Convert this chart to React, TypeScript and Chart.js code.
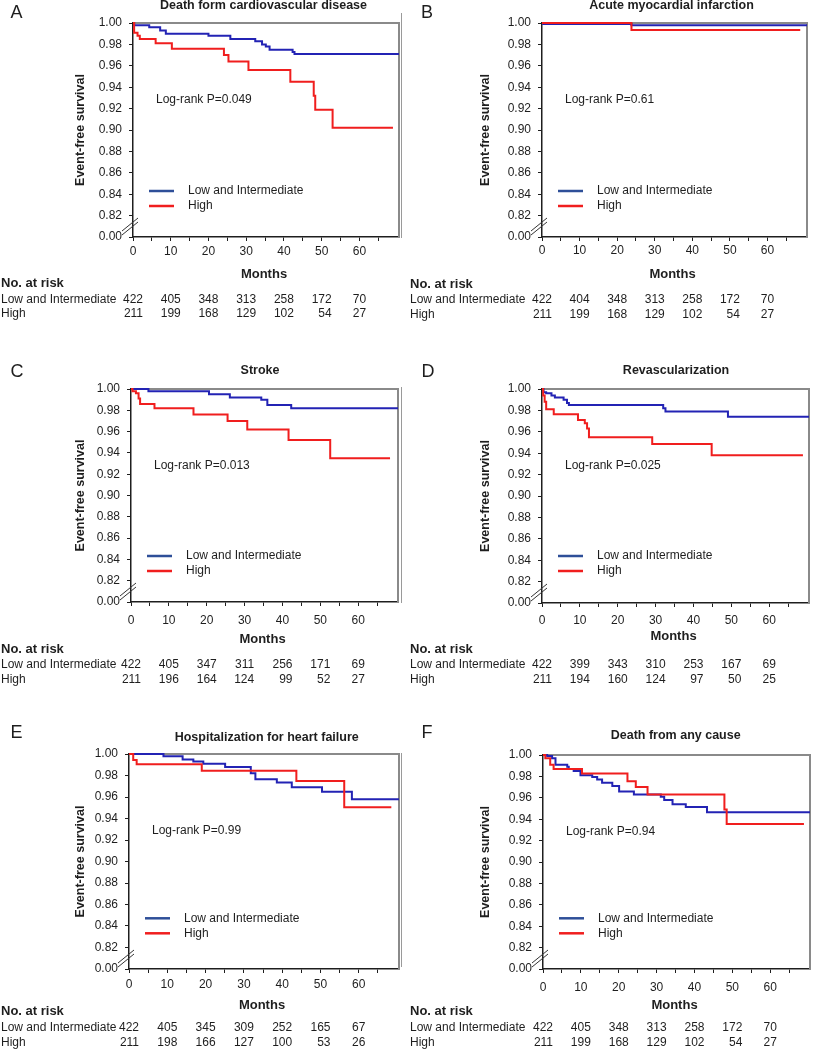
import React, { useEffect, useRef } from "react";
import { Chart, registerables } from "chart.js";

Chart.register(...registerables);

const FONT = '"Liberation Sans", Arial, Helvetica, sans-serif';
const INK = "#1e1e1e";
const BLUE = "#2323b4";
const BLUE_KEY = "#2e4f98";
const RED = "#f01e1e";
const FRAME = "#8a8a8a";

const riskMonths = [0, 10, 20, 30, 40, 50, 60];
const groupNames = ["Low and Intermediate", "High"];
const X_MAX = 70.5;
const Y_MIN = 0.8; // drawn as "0.00" below the axis break
const Y_MAX = 1.0;

// ---- Panel A ----
const titleA = "Death form cardiovascular disease";
const pA = "Log-rank P=0.049";
const aLowT = [0, 0.3, 4.3, 7.2, 8.7, 20.0, 25.8, 32.4, 34.2, 35.2, 36.2, 42.3, 42.8, 70.5];
const aLowS = [1.0, 0.998, 0.996, 0.993, 0.990, 0.988, 0.985, 0.983, 0.980, 0.978, 0.975, 0.973, 0.971, 0.971];
const aHighT = [0, 0.3, 1.2, 1.8, 6.0, 10.3, 24.1, 25.3, 30.6, 41.7, 47.9, 48.3, 52.9, 68.9];
const aHighS = [1.0, 0.991, 0.988, 0.985, 0.981, 0.976, 0.970, 0.964, 0.956, 0.945, 0.932, 0.919, 0.902, 0.902];
const aRiskLow = [422, 405, 348, 313, 258, 172, 70];
const aRiskHigh = [211, 199, 168, 129, 102, 54, 27];

// ---- Panel B ----
const titleB = "Acute myocardial infarction";
const pB = "Log-rank P=0.61";
const bLowT = [0, 0.3, 23.8, 70.5];
const bLowS = [1.0, 0.999, 0.998, 0.998];
const bHighT = [0, 23.8, 68.7];
const bHighS = [1.0, 0.9935, 0.9935];
const bRiskLow = [422, 404, 348, 313, 258, 172, 70];
const bRiskHigh = [211, 199, 168, 129, 102, 54, 27];

// ---- Panel C ----
const titleC = "Stroke";
const pC = "Log-rank P=0.013";
const cLowT = [0, 4.6, 20.6, 26.1, 34.4, 36.0, 42.3, 70.5];
const cLowS = [1.0, 0.998, 0.995, 0.992, 0.990, 0.985, 0.982, 0.982];
const cHighT = [0, 0.4, 1.3, 2.0, 2.4, 6.2, 16.5, 25.5, 30.7, 41.6, 52.6, 68.4];
const cHighS = [1.0, 0.998, 0.996, 0.991, 0.986, 0.982, 0.976, 0.970, 0.962, 0.952, 0.935, 0.935];
const cRiskLow = [422, 405, 347, 311, 256, 171, 69];
const cRiskHigh = [211, 196, 164, 124, 99, 52, 27];

// ---- Panel D ----
const titleD = "Revascularization";
const pD = "Log-rank P=0.025";
const dLowT = [0, 0.4, 1.1, 2.5, 3.4, 5.7, 6.6, 7.1, 32.0, 32.6, 49.1, 70.5];
const dLowS = [1.0, 0.997, 0.996, 0.994, 0.992, 0.990, 0.987, 0.985, 0.982, 0.979, 0.974, 0.974];
const dHighT = [0, 0.3, 0.7, 1.1, 3.1, 9.5, 11.3, 11.9, 12.4, 29.1, 44.8, 68.9];
const dHighS = [1.0, 0.994, 0.988, 0.981, 0.9765, 0.971, 0.968, 0.963, 0.955, 0.9485, 0.938, 0.938];
const dRiskLow = [422, 399, 343, 310, 253, 167, 69];
const dRiskHigh = [211, 194, 160, 124, 97, 50, 25];

// ---- Panel E ----
const titleE = "Hospitalization for heart failure";
const pE = "Log-rank P=0.99";
const eLowT = [0, 9.0, 14.0, 16.8, 19.4, 25.1, 31.8, 33.0, 38.6, 42.5, 50.4, 58.2, 70.5];
const eLowS = [1.0, 0.998, 0.995, 0.993, 0.991, 0.988, 0.982, 0.9765, 0.9735, 0.969, 0.965, 0.958, 0.958];
const eHighT = [0, 1.1, 2.0, 19.0, 43.7, 56.2, 68.5];
const eHighS = [1.0, 0.9945, 0.9905, 0.9845, 0.975, 0.9505, 0.9505];
const eRiskLow = [422, 405, 345, 309, 252, 165, 67];
const eRiskHigh = [211, 198, 166, 127, 100, 53, 26];

// ---- Panel F ----
const titleF = "Death from any cause";
const pF = "Log-rank P=0.94";
const fLowT = [0, 1.1, 2.4, 3.3, 6.4, 6.8, 8.1, 9.9, 13.0, 14.3, 15.6, 18.3, 20.1, 24.0, 31.1, 32.0, 34.2, 37.7, 43.3, 70.5];
const fLowS = [1.0, 0.999, 0.997, 0.991, 0.989, 0.987, 0.985, 0.981, 0.9795, 0.977, 0.974, 0.971, 0.966, 0.963, 0.961, 0.958, 0.954, 0.9515, 0.9465, 0.9465];
const fHighT = [0, 0.6, 1.9, 2.8, 10.3, 22.3, 24.5, 27.6, 47.9, 48.5, 68.9];
const fHighS = [1.0, 0.997, 0.991, 0.987, 0.9826, 0.9754, 0.970, 0.963, 0.949, 0.9356, 0.9356];
const fRiskLow = [422, 405, 348, 313, 258, 172, 70];
const fRiskHigh = [211, 199, 168, 129, 102, 54, 27];

type PanelCfg = {
  letter: string; title: string; pText: string;
  lowT: number[]; lowS: number[]; highT: number[]; highS: number[];
  riskLow: number[]; riskHigh: number[];
  ox: number; oy: number; w: number; h: number;
  L: number; R: number; T: number; B: number;
  letterX: number; letterY: number; titleX: number; titleY: number;
  xPad: number; monthsY: number; riskY: number; row1Y: number; row2Y: number;
  tableX: number; yTitleX: number; legendDY: number;
};

const panels: PanelCfg[] = [
  { letter: "A", title: titleA, pText: pA, lowT: aLowT, lowS: aLowS, highT: aHighT, highS: aHighS, riskLow: aRiskLow, riskHigh: aRiskHigh,
    ox: 0, oy: 0, w: 406, h: 330, L: 133, R: 399, T: 23, B: 237, letterX: 16.5, letterY: 13, titleX: 263.5, titleY: 6,
    xPad: 3.5, monthsY: 274.3, riskY: 283.3, row1Y: 299.3, row2Y: 314, tableX: 1, yTitleX: 81, legendDY: 168 },
  { letter: "B", title: titleB, pText: pB, lowT: bLowT, lowS: bLowS, highT: bHighT, highS: bHighS, riskLow: bRiskLow, riskHigh: bRiskHigh,
    ox: 406, oy: 0, w: 407, h: 330, L: 542, R: 807, T: 23, B: 237, letterX: 427, letterY: 13, titleX: 671.5, titleY: 5.5,
    xPad: 2.5, monthsY: 274.3, riskY: 284.3, row1Y: 299.3, row2Y: 314.3, tableX: 410, yTitleX: 486, legendDY: 168 },
  { letter: "C", title: titleC, pText: pC, lowT: cLowT, lowS: cLowS, highT: cHighT, highS: cHighS, riskLow: cRiskLow, riskHigh: cRiskHigh,
    ox: 0, oy: 330, w: 406, h: 360, L: 131, R: 398, T: 389, B: 602, letterX: 17, letterY: 372, titleX: 260, titleY: 371,
    xPad: 7.8, monthsY: 639, riskY: 649.3, row1Y: 665, row2Y: 680, tableX: 1, yTitleX: 81, legendDY: 167 },
  { letter: "D", title: titleD, pText: pD, lowT: dLowT, lowS: dLowS, highT: dHighT, highS: dHighS, riskLow: dRiskLow, riskHigh: dRiskHigh,
    ox: 406, oy: 330, w: 407, h: 360, L: 542, R: 809, T: 389, B: 603, letterX: 428, letterY: 372, titleX: 676, titleY: 371,
    xPad: 6.8, monthsY: 636.7, riskY: 649.3, row1Y: 665, row2Y: 680, tableX: 410, yTitleX: 486, legendDY: 167 },
  { letter: "E", title: titleE, pText: pE, lowT: eLowT, lowS: eLowS, highT: eHighT, highS: eHighS, riskLow: eRiskLow, riskHigh: eRiskHigh,
    ox: 0, oy: 690, w: 406, h: 360, L: 129, R: 399, T: 754, B: 969, letterX: 16.5, letterY: 733, titleX: 266.7, titleY: 737.3,
    xPad: 4.8, monthsY: 1005, riskY: 1011.7, row1Y: 1027.7, row2Y: 1042.3, tableX: 1, yTitleX: 81, legendDY: 164.3 },
  { letter: "F", title: titleF, pText: pF, lowT: fLowT, lowS: fLowS, highT: fHighT, highS: fHighS, riskLow: fRiskLow, riskHigh: fRiskHigh,
    ox: 406, oy: 690, w: 407, h: 360, L: 543, R: 810, T: 755, B: 969, letterX: 427, letterY: 733, titleX: 675.7, titleY: 736,
    xPad: 7.5, monthsY: 1005, riskY: 1011.7, row1Y: 1027.7, row2Y: 1042.3, tableX: 410, yTitleX: 486, legendDY: 163.3 },
];

const X_AXIS_H = 34;

function toPoints(t: number[], s: number[]) {
  return t.map((x, i) => ({ x, y: s[i] }));
}

function decorPlugin(cfg: PanelCfg) {
  return {
    id: "kmDecor",
    beforeDatasetsDraw(chart: any) {
      const ctx = chart.ctx as CanvasRenderingContext2D;
      const { left: L, right: R, top: T, bottom: B } = chart.chartArea;
      ctx.save();
      ctx.strokeStyle = FRAME;
      ctx.lineWidth = 2;
      ctx.beginPath();
      ctx.moveTo(L, T);
      ctx.lineTo(R, T);
      ctx.lineTo(R, B);
      ctx.stroke();
      ctx.restore();
    },
    afterDraw(chart: any) {
      const ctx = chart.ctx as CanvasRenderingContext2D;
      const { left: L, right: R, top: T, bottom: B } = chart.chartArea;
      const xs = chart.scales.x;
      const lx = (px: number) => px - cfg.ox;
      const ly = (py: number) => py - cfg.oy;
      ctx.save();

      // axis break marks
      ctx.strokeStyle = "#333";
      ctx.lineWidth = 1;
      for (const d of [0, 4]) {
        ctx.beginPath();
        ctx.moveTo(L - 11, B - 2 - d);
        ctx.lineTo(L + 5, B - 15 - d);
        ctx.stroke();
      }

      ctx.fillStyle = INK;
      ctx.textBaseline = "middle";

      // panel letter
      ctx.font = `18px ${FONT}`;
      ctx.textAlign = "center";
      ctx.fillText(cfg.letter, lx(cfg.letterX), ly(cfg.letterY));

      // title
      ctx.font = `bold 12.5px ${FONT}`;
      ctx.fillText(cfg.title, lx(cfg.titleX), ly(cfg.titleY));

      // y axis title
      ctx.save();
      ctx.translate(lx(cfg.yTitleX), (T + B) / 2);
      ctx.rotate(-Math.PI / 2);
      ctx.font = `bold 12.5px ${FONT}`;
      ctx.fillText("Event-free survival", 0, 0);
      ctx.restore();

      // x axis title
      ctx.font = `bold 13px ${FONT}`;
      ctx.fillText("Months", (L + R) / 2 - 2, ly(cfg.monthsY));

      // log-rank
      ctx.textAlign = "left";
      ctx.font = `12px ${FONT}`;
      ctx.fillText(cfg.pText, L + 23, T + 76.5);

      // legend
      const keys = [
        { c: BLUE_KEY, label: groupNames[0], y: T + cfg.legendDY },
        { c: RED, label: groupNames[1], y: T + cfg.legendDY + 15 },
      ];
      for (const k of keys) {
        ctx.strokeStyle = k.c;
        ctx.lineWidth = 2.5;
        ctx.beginPath();
        ctx.moveTo(L + 16, k.y);
        ctx.lineTo(L + 41, k.y);
        ctx.stroke();
        ctx.fillStyle = INK;
        ctx.fillText(k.label, L + 55, k.y);
      }

      // risk table
      ctx.font = `bold 13px ${FONT}`;
      ctx.fillText("No. at risk", lx(cfg.tableX), ly(cfg.riskY));
      ctx.font = `12px ${FONT}`;
      ctx.fillText(groupNames[0], lx(cfg.tableX), ly(cfg.row1Y));
      ctx.fillText(groupNames[1], lx(cfg.tableX), ly(cfg.row2Y));
      ctx.textAlign = "right";
      riskMonths.forEach((m, i) => {
        const x = xs.getPixelForValue(m);
        const top = String(cfg.riskLow[i]);
        const right = x + ctx.measureText(top).width / 2;
        ctx.fillText(top, right, ly(cfg.row1Y));
        ctx.fillText(String(cfg.riskHigh[i]), right, ly(cfg.row2Y));
      });

      ctx.restore();
    },
  };
}

function KMPanel({ cfg }: { cfg: PanelCfg }) {
  const ref = useRef<HTMLCanvasElement | null>(null);
  useEffect(() => {
    const canvas = ref.current;
    if (!canvas) return;
    const tickFont = { family: FONT, size: 12 };
    const chart = new Chart(canvas, {
      type: "line",
      data: {
        datasets: [
          {
            label: groupNames[1],
            data: toPoints(cfg.highT, cfg.highS),
            borderColor: RED,
            borderWidth: 2,
            stepped: "before",
            pointRadius: 0,
            fill: false,
            clip: false,
          } as any,
          {
            label: groupNames[0],
            data: toPoints(cfg.lowT, cfg.lowS),
            borderColor: BLUE,
            borderWidth: 2,
            stepped: "before",
            pointRadius: 0,
            fill: false,
            clip: false,
          } as any,
        ],
      },
      options: {
        animation: false,
        responsive: false,
        maintainAspectRatio: false,
        events: [],
        layout: {
          autoPadding: false,
          padding: {
            left: 0,
            top: cfg.T - cfg.oy,
            right: cfg.ox + cfg.w - cfg.R,
            bottom: cfg.oy + cfg.h - cfg.B - X_AXIS_H,
          },
        },
        plugins: {
          legend: { display: false },
          title: { display: false },
          tooltip: { enabled: false },
        },
        scales: {
          x: {
            type: "linear",
            min: 0,
            max: X_MAX,
            afterBuildTicks: (s: any) => {
              s.ticks = s.ticks.filter((t: any) => t.value <= 65.01);
            },
            afterFit: (s: any) => {
              s.height = X_AXIS_H;
            },
            ticks: {
              stepSize: 5,
              includeBounds: false,
              autoSkip: false,
              maxRotation: 0,
              minRotation: 0,
              padding: cfg.xPad,
              color: INK,
              font: tickFont,
              callback: (v: any) => (Number(v) % 10 === 0 ? String(v) : ""),
            },
            grid: { drawOnChartArea: false, drawTicks: true, tickLength: 4, tickColor: INK, tickWidth: 1 },
            border: { display: true, color: INK, width: 1.5 },
          },
          y: {
            type: "linear",
            min: Y_MIN,
            max: Y_MAX,
            afterFit: (s: any) => {
              s.width = cfg.L - cfg.ox;
            },
            ticks: {
              stepSize: 0.02,
              autoSkip: false,
              padding: 7,
              color: INK,
              font: tickFont,
              callback: (v: any) => (Number(v) < 0.81 ? "0.00" : Number(v).toFixed(2)),
            },
            grid: { drawOnChartArea: false, drawTicks: true, tickLength: 4, tickColor: INK, tickWidth: 1 },
            border: { display: true, color: INK, width: 1.5 },
          },
        },
      } as any,
      plugins: [decorPlugin(cfg) as any],
    });
    return () => chart.destroy();
  }, [cfg]);
  return (
    <canvas
      ref={ref}
      width={cfg.w}
      height={cfg.h}
      style={{ position: "absolute", left: cfg.ox, top: cfg.oy, width: cfg.w, height: cfg.h }}
    />
  );
}

const seams = [
  { top: 13, height: 225 },
  { top: 387, height: 216 },
  { top: 753, height: 214 },
];

export default function App() {
  return (
    <div
      style={{
        position: "absolute",
        left: 0,
        top: 0,
        width: 813,
        height: 1050,
        background: "#ffffff",
        overflow: "hidden",
      }}
    >
      {panels.map((p) => (
        <KMPanel key={p.letter} cfg={p} />
      ))}
      {seams.map((s, i) => (
        <div
          key={i}
          style={{ position: "absolute", left: 401, top: s.top, width: 0, height: s.height, borderLeft: "1px solid #9a9a9a" }}
        />
      ))}
    </div>
  );
}
